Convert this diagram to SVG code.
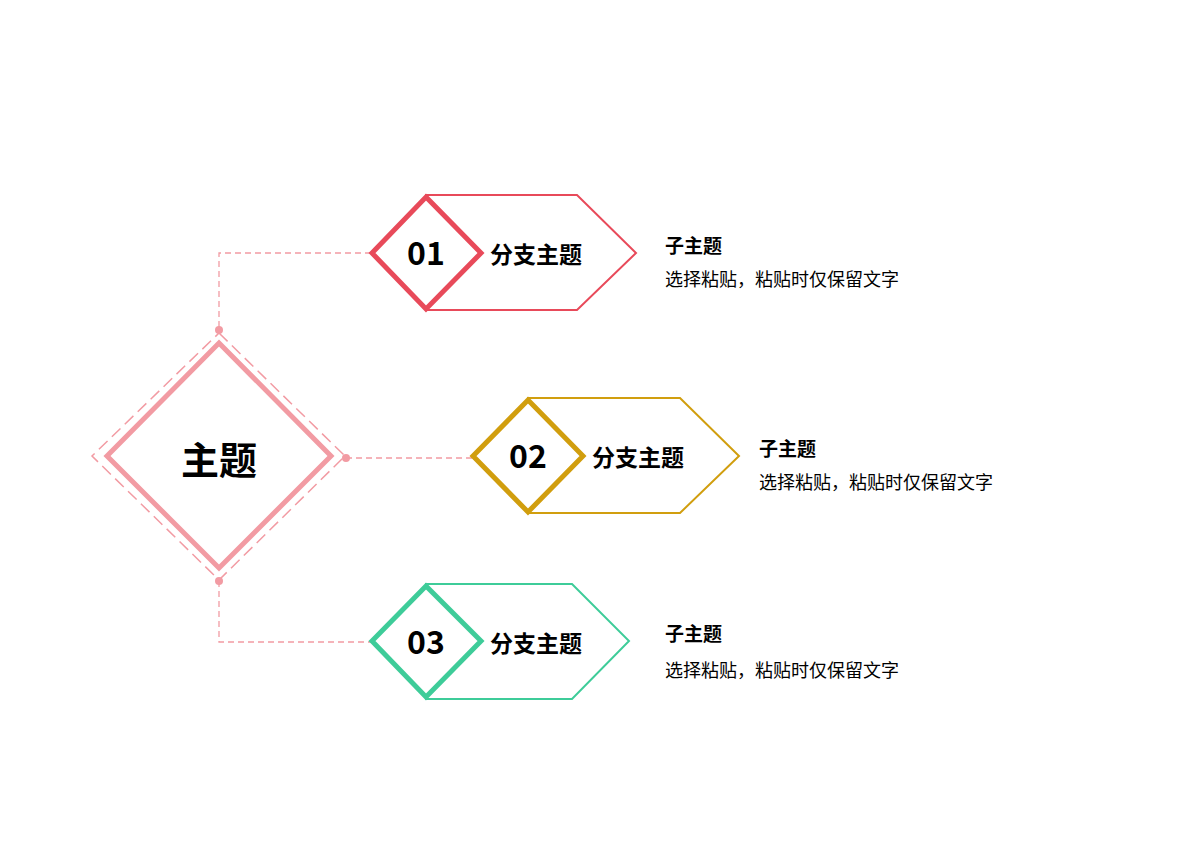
<svg xmlns="http://www.w3.org/2000/svg" width="1200" height="848" viewBox="0 0 1200 848">
<style>
text{font-family:"Noto Sans CJK SC","Noto Sans",sans-serif;fill:#000}
.num{font-size:32px;font-weight:bold;text-anchor:middle}
.br{font-size:23px;font-weight:bold}
.sub{font-size:19px;font-weight:bold}
.desc{font-size:18px}
.con{fill:none;stroke:#f29ba3;stroke-width:1.3;stroke-dasharray:6 4}
</style>
<rect width="1200" height="848" fill="#fff"/>
<g id="connectors">
<path class="con" d="M371 253H219V330"/>
<path class="con" d="M346 458H472"/>
<path class="con" d="M219 581V642H371"/>
</g>
<g id="main">
<polygon points="219,333 345,456 219,580 92,456" fill="none" stroke="#f29ba3" stroke-width="1.5" stroke-dasharray="12 6"/>
<polygon points="219,343 331,456 219,568 107,456" fill="#fff" stroke="#f29ba3" stroke-width="5"/>
<circle cx="219" cy="330" r="4" fill="#f29ba3"/>
<circle cx="346" cy="458" r="4" fill="#f29ba3"/>
<circle cx="219" cy="581" r="4" fill="#f29ba3"/>
<text x="219" y="474" font-size="38" font-weight="bold" text-anchor="middle">主题</text>
</g>
<g id="b1">
<polygon points="426,195 577,195 636,253 577,310 426,310" fill="#fff" stroke="#e84a5a" stroke-width="2"/>
<polygon points="426,197 481,253 426,309 372,253" fill="#fff" stroke="#e84a5a" stroke-width="5"/>
<text class="num" x="426" y="265">01</text>
<text class="br" x="490" y="263">分支主题</text>
<text class="sub" x="665" y="253">子主题</text>
<text class="desc" x="665" y="286">选择粘贴，粘贴时仅保留文字</text>
</g>
<g id="b2">
<polygon points="528,398 680,398 739,456 680,513 528,513" fill="#fff" stroke="#d19e0e" stroke-width="2"/>
<polygon points="528,400 583,456 528,512 473,456" fill="#fff" stroke="#d19e0e" stroke-width="5"/>
<text class="num" x="528" y="468">02</text>
<text class="br" x="592" y="466">分支主题</text>
<text class="sub" x="759" y="456">子主题</text>
<text class="desc" x="759" y="489">选择粘贴，粘贴时仅保留文字</text>
</g>
<g id="b3">
<polygon points="426,584 572,584 629,641 572,699 426,699" fill="#fff" stroke="#3ecc99" stroke-width="2"/>
<polygon points="426,586 481,641 426,697 372,641" fill="#fff" stroke="#3ecc99" stroke-width="5"/>
<text class="num" x="426" y="654">03</text>
<text class="br" x="490" y="652">分支主题</text>
<text class="sub" x="665" y="641">子主题</text>
<text class="desc" x="665" y="677">选择粘贴，粘贴时仅保留文字</text>
</g>
</svg>
